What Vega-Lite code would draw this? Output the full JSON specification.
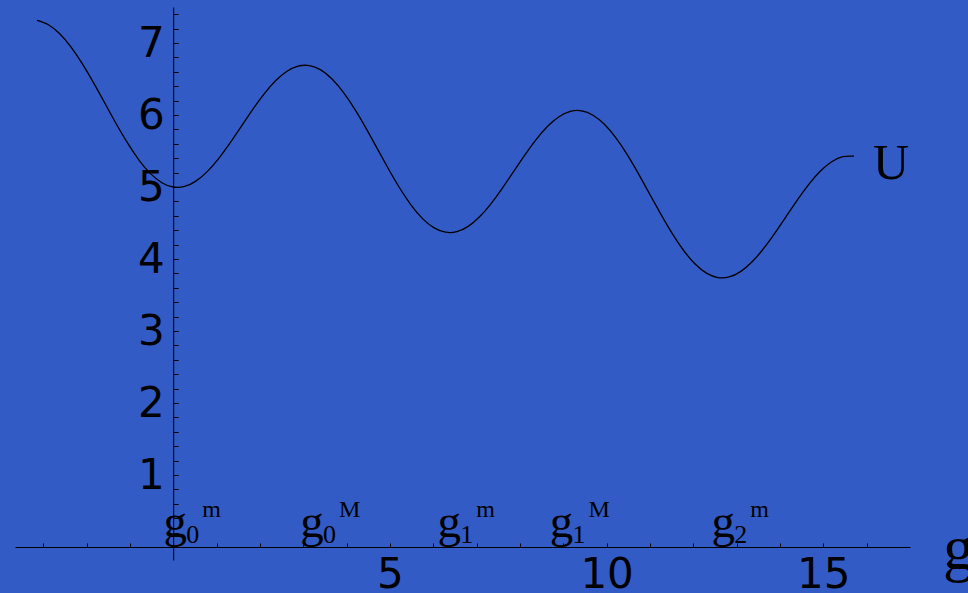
{
  "$schema": "https://vega.github.io/schema/vega-lite/v6.json",
  "width": 895,
  "height": 553,
  "autosize": {"type": "none"},
  "padding": {"left": 15, "top": 7, "right": 58, "bottom": 33},
  "background": "#335BC5",
  "config": {
    "view": {"stroke": null},
    "axis": {
      "domainColor": "black", "domainWidth": 1, "tickColor": "black", "tickWidth": 1,
      "labelColor": "black", "labelFont": "DejaVu Sans", "labelFontSize": 42,
      "grid": false, "title": null, "labelOverlap": false, "labelFlush": false, "labelBound": false
    }
  },
  "datasets": {
    "curve": [
      {"x": -3.1416, "y": 7.314}, {"x": -2.8798, "y": 7.254}, {"x": -2.618, "y": 7.128}, {"x": -2.3562, "y": 6.943},
      {"x": -2.0944, "y": 6.709}, {"x": -1.8326, "y": 6.442}, {"x": -1.5708, "y": 6.157}, {"x": -1.309, "y": 5.872},
      {"x": -1.0472, "y": 5.605}, {"x": -0.7854, "y": 5.371}, {"x": -0.5236, "y": 5.186}, {"x": -0.2618, "y": 5.06},
      {"x": 0, "y": 5.0}, {"x": 0.2618, "y": 5.008}, {"x": 0.5236, "y": 5.082}, {"x": 0.7854, "y": 5.214},
      {"x": 1.0472, "y": 5.395}, {"x": 1.309, "y": 5.61}, {"x": 1.5708, "y": 5.843}, {"x": 1.8326, "y": 6.076},
      {"x": 2.0944, "y": 6.291}, {"x": 2.3562, "y": 6.472}, {"x": 2.618, "y": 6.604}, {"x": 2.8798, "y": 6.678},
      {"x": 3.1416, "y": 6.686}, {"x": 3.4034, "y": 6.626}, {"x": 3.6652, "y": 6.5}, {"x": 3.927, "y": 6.314},
      {"x": 4.1888, "y": 6.081}, {"x": 4.4506, "y": 5.814}, {"x": 4.7124, "y": 5.529}, {"x": 4.9742, "y": 5.244},
      {"x": 5.236, "y": 4.976}, {"x": 5.4978, "y": 4.743}, {"x": 5.7596, "y": 4.558}, {"x": 6.0214, "y": 4.432},
      {"x": 6.2832, "y": 4.372}, {"x": 6.545, "y": 4.38}, {"x": 6.8068, "y": 4.453}, {"x": 7.0686, "y": 4.586},
      {"x": 7.3304, "y": 4.767}, {"x": 7.5922, "y": 4.982}, {"x": 7.854, "y": 5.215}, {"x": 8.1158, "y": 5.447},
      {"x": 8.3776, "y": 5.662}, {"x": 8.6394, "y": 5.843}, {"x": 8.9012, "y": 5.976}, {"x": 9.163, "y": 6.05},
      {"x": 9.4248, "y": 6.058}, {"x": 9.6866, "y": 5.997}, {"x": 9.9484, "y": 5.871}, {"x": 10.2102, "y": 5.686},
      {"x": 10.472, "y": 5.453}, {"x": 10.7338, "y": 5.185}, {"x": 10.9956, "y": 4.9}, {"x": 11.2574, "y": 4.616},
      {"x": 11.5192, "y": 4.348}, {"x": 11.781, "y": 4.115}, {"x": 12.0428, "y": 3.93}, {"x": 12.3046, "y": 3.804},
      {"x": 12.5664, "y": 3.743}, {"x": 12.8282, "y": 3.751}, {"x": 13.09, "y": 3.825}, {"x": 13.3518, "y": 3.958},
      {"x": 13.6136, "y": 4.139}, {"x": 13.8754, "y": 4.354}, {"x": 14.1372, "y": 4.586}, {"x": 14.399, "y": 4.819},
      {"x": 14.6608, "y": 5.034}, {"x": 14.9226, "y": 5.215}, {"x": 15.1844, "y": 5.348}, {"x": 15.4462, "y": 5.421},
      {"x": 15.708, "y": 5.429}
    ],
    "marks": [
      {"x": 0.05, "y": 0, "b": "g", "s": "0", "p": "m"},
      {"x": 3.2, "y": 0, "b": "g", "s": "0", "p": "M"},
      {"x": 6.37, "y": 0, "b": "g", "s": "1", "p": "m"},
      {"x": 8.96, "y": 0, "b": "g", "s": "1", "p": "M"},
      {"x": 12.69, "y": 0, "b": "g", "s": "2", "p": "m"}
    ],
    "ulabel": [{"x": 15.708, "y": 5.429, "t": "U"}],
    "glabel": [{"x": 17.76, "y": 0, "t": "g"}]
  },
  "encoding": {
    "x": {
      "field": "x", "type": "quantitative",
      "scale": {"domain": [-3.65, 17], "nice": false, "zero": false},
      "axis": {
        "orient": "bottom", "offset": -13, "tickSize": -4, "labelPadding": 11,
        "values": [-3, -2, -1, 0, 1, 2, 3, 4, 5, 6, 7, 8, 9, 10, 11, 12, 13, 14, 15, 16],
        "labelExpr": "datum.value % 5 === 0 && datum.value > 0 ? format(datum.value, 'd') : ''"
      }
    },
    "y": {
      "field": "y", "type": "quantitative",
      "scale": {"domain": [-0.18, 7.5], "nice": false, "zero": false},
      "axis": {
        "orient": "left", "offset": -158.2, "tickSize": -5, "labelPadding": 14,
        "values": [0.2, 0.4, 0.6, 0.8, 1, 1.2, 1.4, 1.6, 1.8, 2, 2.2, 2.4, 2.6, 2.8, 3, 3.2, 3.4, 3.6, 3.8, 4, 4.2, 4.4, 4.6, 4.8, 5, 5.2, 5.4, 5.6, 5.8, 6, 6.2, 6.4, 6.6, 6.8, 7, 7.2, 7.4],
        "labelExpr": "datum.value % 1 === 0 ? format(datum.value, 'd') : ''"
      }
    }
  },
  "layer": [
    {
      "data": {"name": "curve"},
      "mark": {"type": "line", "color": "black", "strokeWidth": 1.3, "interpolate": "natural"}
    },
    {
      "data": {"name": "marks"},
      "mark": {"type": "text", "font": "Liberation Serif", "fontSize": 47, "align": "center", "baseline": "alphabetic", "dy": -10, "color": "black"},
      "encoding": {"text": {"field": "b"}}
    },
    {
      "data": {"name": "marks"},
      "mark": {"type": "text", "font": "Liberation Serif", "fontSize": 26, "align": "left", "baseline": "alphabetic", "dx": 11, "dy": -4, "color": "black"},
      "encoding": {"text": {"field": "s"}}
    },
    {
      "data": {"name": "marks"},
      "mark": {"type": "text", "font": "Liberation Serif", "fontSize": 24, "align": "left", "baseline": "alphabetic", "dx": 27, "dy": -30, "color": "black"},
      "encoding": {"text": {"field": "p"}}
    },
    {
      "data": {"name": "ulabel"},
      "mark": {"type": "text", "font": "Liberation Serif", "fontSize": 50, "align": "left", "baseline": "alphabetic", "dx": 19, "dy": 23, "color": "black"},
      "encoding": {"text": {"field": "t"}}
    },
    {
      "data": {"name": "glabel"},
      "mark": {"type": "text", "font": "Liberation Serif", "fontSize": 63, "align": "left", "baseline": "alphabetic", "dy": 22, "color": "black"},
      "encoding": {"text": {"field": "t"}}
    }
  ]
}
